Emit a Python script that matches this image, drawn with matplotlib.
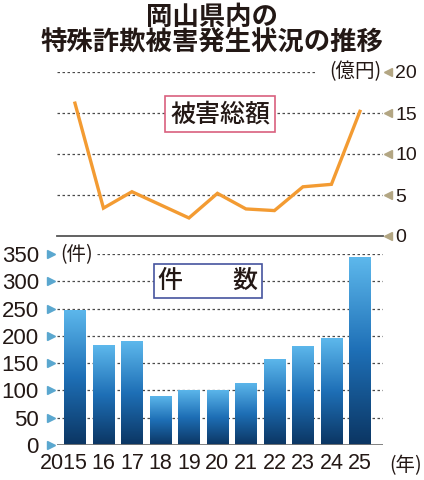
import numpy as np
import matplotlib
matplotlib.use('Agg')
import matplotlib.pyplot as plt
import matplotlib.transforms as mtrans
from matplotlib.colors import LinearSegmentedColormap

# data
years = ['2015', '16', '17', '18', '19', '20', '21', '22', '23', '24', '25']
damage = [16.2, 3.4, 5.4, 3.8, 2.2, 5.2, 3.3, 3.1, 6.0, 6.3, 15.2]   # 億円
cases = [248, 183, 190, 90, 101, 101, 114, 158, 182, 196, 344]       # 件
damage_ticks = [0, 5, 10, 15, 20]
case_ticks = [0, 50, 100, 150, 200, 250, 300, 350]

JP = ['Noto Sans CJK JP', 'DejaVu Sans']
NUM = ['Liberation Sans', 'DejaVu Sans']
plt.rcParams['font.family'] = JP
INK = '#231815'
GRID = '#4a4a4a'

W, H = 424, 480
fig = plt.figure(figsize=(W / 100, H / 100), dpi=100)
fig.patch.set_facecolor('white')


def px(x0, y0, w, h):
    return [x0 / W, 1 - (y0 + h) / H, w / W, h / H]


def fx(x):
    return x / W


def fy(y):
    return 1 - y / H


x = np.arange(len(years))
xlim = (-0.63, 10.81)

# ---- top: 被害総額 line ----
ax1 = fig.add_axes(px(57, 72, 326, 164))
for v in damage_ticks[1:]:
    xmax = 0.79 if v == 20 else 1.0
    ax1.axhline(v, xmin=0, xmax=xmax, color=GRID, lw=0.9, ls=(0, (2, 2)), zorder=1)
ax1.axhline(0, color='#555555', lw=1.3, zorder=1, clip_on=False)
ax1.plot(x, damage, color='#f39b32', lw=2.4, solid_joinstyle='miter', zorder=3)
ax1.set_xlim(*xlim)
ax1.set_ylim(0, 20)
ax1.set_xticks([])
ax1.yaxis.tick_right()
ax1.set_yticks(damage_ticks)
ax1.set_yticklabels([str(v) for v in damage_ticks], family=NUM, fontsize=14, color=INK)
ax1.tick_params(axis='y', length=0, pad=9)
tr1 = mtrans.blended_transform_factory(ax1.transAxes, ax1.transData)
ax1.plot([1.016] * len(damage_ticks), damage_ticks, ls='none', marker='<', ms=6,
         color='#b3a683', transform=tr1, clip_on=False)
for s in ax1.spines.values():
    s.set_visible(False)
ax1.patch.set_alpha(0)

# ---- bottom: 件数 bars ----
ax2 = fig.add_axes(px(57, 254, 326, 191))
for v in case_ticks[1:]:
    xmin = 0.123 if v == 350 else 0.0
    ax2.axhline(v, xmin=xmin, xmax=1.0, color=GRID, lw=0.9, ls=(0, (2, 2)), zorder=1)
ax2.axhline(0, color='#777777', lw=1.3, zorder=4)
bars = ax2.bar(x, cases, width=0.74, color='none', zorder=3)
cmap = LinearSegmentedColormap.from_list('bar', ['#0b3562', '#1e6fb6', '#5db8ec'])
grad = np.linspace(0, 1, 256).reshape(-1, 1)
for b in bars:
    x0, w, h = b.get_x(), b.get_width(), b.get_height()
    im = ax2.imshow(grad, extent=[x0, x0 + w, 0, h], origin='lower', cmap=cmap,
                    aspect='auto', zorder=3)
    im.set_clip_path(b)
ax2.set_xlim(*xlim)
ax2.set_ylim(0, 350)
ax2.set_yticks(case_ticks)
ax2.set_yticklabels([str(v) for v in case_ticks], family=NUM, fontsize=16, color=INK)
ax2.tick_params(axis='y', length=0, pad=13)
ax2.set_xticks(x)
ax2.set_xticklabels(years, family=NUM, fontsize=15.5, color=INK)
ax2.tick_params(axis='x', length=0, pad=6)
# the long "2015" sits a little left of its bar, as in the print
first = ax2.get_xticklabels()[0]
first.set_transform(first.get_transform() +
                    mtrans.ScaledTranslation(-11 / 100, 0, fig.dpi_scale_trans))
tr2 = mtrans.blended_transform_factory(ax2.transAxes, ax2.transData)
ax2.plot([-0.018] * len(case_ticks), case_ticks, ls='none', marker='>', ms=6,
         color='#5aa7cf', transform=tr2, clip_on=False)
for s in ax2.spines.values():
    s.set_visible(False)
ax2.patch.set_alpha(0)

# ---- texts ----
fig.text(0.5, fy(17), '岡山県内の', ha='center', va='center', fontsize=19,
         weight='bold', color=INK)
fig.text(0.5, fy(43), '特殊詐欺被害発生状況の推移', ha='center', va='center',
         fontsize=19, weight='bold', color=INK)
fig.text(fx(220), fy(114), '被害総額', ha='center', va='center', fontsize=18, color=INK,
         weight='medium',
         bbox=dict(boxstyle='square,pad=0.2', fc='white', ec='#d9607e', lw=1.2), zorder=5)
fig.text(fx(208), fy(281), '件　　数', ha='center', va='center', fontsize=18, color=INK,
         weight='medium',
         bbox=dict(boxstyle='square,pad=0.15', fc='white', ec='#46549e', lw=1.2), zorder=5)
fig.text(fx(381), fy(72), '(億円)', ha='right', va='center', fontsize=14, color=INK)
fig.text(fx(60), fy(255), '(件)', ha='left', va='center', fontsize=14, color=INK)
fig.text(fx(389), fy(466), '(年)', ha='left', va='center', fontsize=14, color=INK)

fig.savefig('out.png', dpi=100, facecolor='white')
